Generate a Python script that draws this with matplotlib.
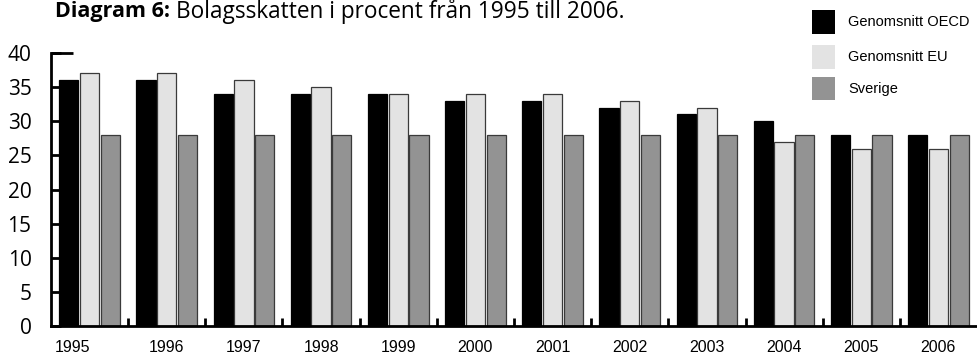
import matplotlib
matplotlib.use("Agg")
import matplotlib.pyplot as plt
import numpy as np
from matplotlib.patches import Rectangle
from matplotlib.transforms import blended_transform_factory, ScaledTranslation

years = ["1995", "1996", "1997", "1998", "1999", "2000",
         "2001", "2002", "2003", "2004", "2005", "2006"]
oecd = [36, 36, 34, 34, 34, 33, 33, 32, 31, 30, 28, 28]
eu = [37, 37, 36, 35, 34, 34, 34, 33, 32, 27, 26, 26]
sverige = [28, 28, 28, 28, 28, 28, 28, 28, 28, 28, 28, 28]
series_names = ["Genomsnitt OECD", "Genomsnitt EU", "Sverige"]
y_ticks = [0, 5, 10, 15, 20, 25, 30, 35, 40]

colors = ["#000000", "#e3e3e3", "#939393"]
edges = ["#000000", "#3a3a3a", "#3a3a3a"]

W, H = 977, 355
fig = plt.figure(figsize=(W / 100, H / 100), dpi=100)
ax = fig.add_axes([51 / W, 29 / H, 1 - 51 / W, 273 / H])

x = np.arange(len(years))
step = 0.269
width = 0.25
for k, (vals, c, e) in enumerate(zip([oecd, eu, sverige], colors, edges)):
    ax.bar(x + (k - 1) * step, vals, width=width, color=c, edgecolor=e,
           linewidth=0.9, zorder=2)

ax.set_xlim(-0.5, len(years) - 0.5)
ax.set_ylim(0, 40)

for s in ["top", "right"]:
    ax.spines[s].set_visible(False)
ax.spines["left"].set_linewidth(2)
ax.spines["bottom"].set_linewidth(2)
ax.spines["left"].set_bounds(0, 40)

ax.set_yticks(y_ticks)
ax.set_yticklabels([str(v) for v in y_ticks], family="Open Sans", fontsize=15)
ax.tick_params(axis="y", direction="in", length=7, width=2, pad=14)

# group separators on the x axis
ax.set_xticks(np.arange(len(years) - 1) + 0.5)
ax.set_xticklabels([])
ax.tick_params(axis="x", direction="in", length=6, width=2)

# longer mark at the top of the value axis
trans_ya = blended_transform_factory(ax.transAxes, ax.transData)
ax.plot([0, 22 / (W - 51)], [40, 40], color="black", lw=2,
        transform=trans_ya, clip_on=False, solid_capstyle="butt")

# year labels below the groups
trans_xa = blended_transform_factory(ax.transData, ax.transAxes)
for i, yr in enumerate(years):
    t = trans_xa
    if i == 0:
        t = trans_xa + ScaledTranslation(-17 / 100, 0, fig.dpi_scale_trans)
    ax.text(i, -0.078, yr, transform=t, ha="center", va="center",
            family="Liberation Sans", fontsize=11.5)

# title: bold lead followed by regular text
title_y = 1 - 12 / H
tb = fig.text(55 / W, title_y, "Diagram 6:", family="Open Sans", fontweight="bold",
              fontsize=15.5, ha="left", va="center")
fig.canvas.draw()
bb = tb.get_window_extent()
fig.text((bb.x1 + 6) / W, title_y, "Bolagsskatten i procent från 1995 till 2006.",
         family="Open Sans", fontsize=16.3, ha="left", va="center")

# legend
leg_y = [22, 57, 89]
for name, c, yc in zip(series_names, colors, leg_y):
    fig.patches.append(Rectangle((812 / W, (H - yc - 11.5) / H), 23 / W, 23 / H,
                                 transform=fig.transFigure, facecolor=c,
                                 edgecolor="none"))
    fig.text(848 / W, 1 - yc / H, name, family="Liberation Sans", fontsize=10.5,
             ha="left", va="center")

fig.savefig("out.png", dpi=100)
